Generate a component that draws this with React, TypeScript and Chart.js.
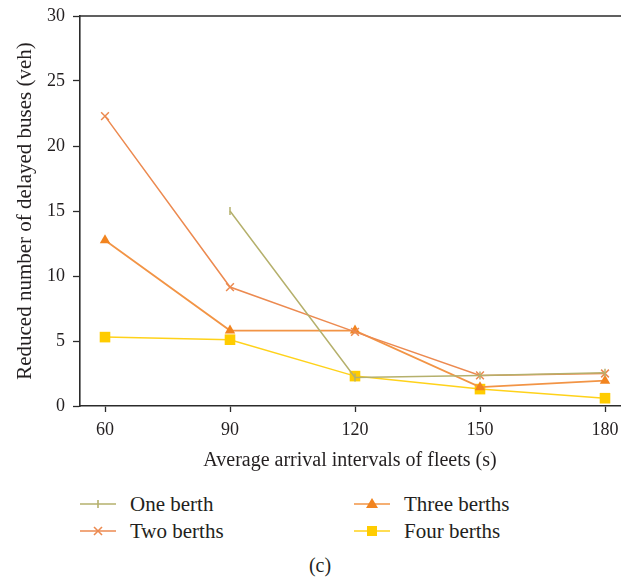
import React, { useEffect, useRef } from "react";
import { Chart, registerables } from "chart.js";

Chart.register(...registerables);

const xValues = [60, 90, 120, 150, 180];
const xTicks = [60, 90, 120, 150, 180];
const seriesNames = ["One berth", "Two berths", "Three berths", "Four berths"];
const oneBerth = [null, 15.0, 2.2, 2.35, 2.55];
const twoBerths = [22.3, 9.15, 5.7, 2.35, 2.5];
const threeBerths = [12.75, 5.8, 5.8, 1.45, 1.95];
const fourBerths = [5.3, 5.1, 2.3, 1.3, 0.6];
const yTitle = "Reduced number of delayed buses (veh)";
const xTitle = "Average arrival intervals of fleets (s)";
const caption = "(c)";

const FONT = "'Liberation Serif', 'Times New Roman', serif";
const TEXT = "#231f20";
const AXIS = "#2b2b2b";

const colors = {
  one: "#b5b06c",
  two: "#ec8a50",
  threeLine: "#f29445",
  threePt: "#f2841f",
  four: "#ffd21a",
  fourPt: "#ffcc00",
};

const toPts = (arr: (number | null)[]) => xValues.map((x, i) => ({ x, y: arr[i] }));

const topLine = {
  id: "topLine",
  afterDraw(chart: any) {
    const { ctx, chartArea } = chart;
    ctx.save();
    ctx.strokeStyle = AXIS;
    ctx.lineWidth = 1.6;
    ctx.beginPath();
    ctx.moveTo(chartArea.left, chartArea.top);
    ctx.lineTo(chart.width, chartArea.top);
    ctx.stroke();
    ctx.restore();
  },
};

function LegendItem({ x, y, label, color, marker }: any) {
  return (
    <div style={{ position: "absolute", left: x, top: y - 14, height: 28, display: "flex", alignItems: "center" }}>
      <svg width={38} height={20} style={{ marginRight: 13 }}>
        <line x1={1} y1={10} x2={37} y2={10} stroke={color} strokeWidth={1.6} />
        {marker === "line" && <line x1={19} y1={6} x2={19} y2={14} stroke={color} strokeWidth={1.6} />}
        {marker === "cross" && (
          <g stroke={color} strokeWidth={1.6}>
            <line x1={15} y1={6} x2={23} y2={14} />
            <line x1={23} y1={6} x2={15} y2={14} />
          </g>
        )}
        {marker === "tri" && <polygon points="19,4 25,14 13,14" fill={colors.threePt} />}
        {marker === "rect" && <rect x={14} y={5} width={10} height={10} fill={colors.fourPt} />}
      </svg>
      <span style={{ fontFamily: FONT, fontSize: 21, color: TEXT, whiteSpace: "nowrap" }}>{label}</span>
    </div>
  );
}

export default function App() {
  const ref = useRef<HTMLCanvasElement>(null);
  useEffect(() => {
    if (!ref.current) return;
    const chart = new Chart(ref.current, {
      type: "line",
      data: {
        datasets: [
          {
            label: seriesNames[0],
            data: toPts(oneBerth),
            borderColor: colors.one,
            backgroundColor: colors.one,
            borderWidth: 1.5,
            pointStyle: "line",
            rotation: 90,
            pointRadius: 4,
            pointBorderWidth: 1.5,
          },
          {
            label: seriesNames[1],
            data: toPts(twoBerths),
            borderColor: colors.two,
            backgroundColor: colors.two,
            borderWidth: 1.5,
            pointStyle: "crossRot",
            pointRadius: 5.5,
            pointBorderWidth: 1.5,
          },
          {
            label: seriesNames[2],
            data: toPts(threeBerths),
            borderColor: colors.threeLine,
            backgroundColor: colors.threePt,
            borderWidth: 1.8,
            pointStyle: "triangle",
            pointRadius: 6,
            pointBorderWidth: 0,
            pointBorderColor: colors.threePt,
          },
          {
            label: seriesNames[3],
            data: toPts(fourBerths),
            borderColor: colors.four,
            backgroundColor: colors.fourPt,
            borderWidth: 1.5,
            pointStyle: "rect",
            pointRadius: 7.5,
            pointBorderWidth: 0,
            pointBorderColor: colors.fourPt,
          },
        ],
      },
      options: {
        animation: false,
        responsive: false,
        maintainAspectRatio: false,
        layout: { autoPadding: false, padding: { top: 16, left: 0, right: 1, bottom: 0 } },
        plugins: { legend: { display: false }, tooltip: { enabled: false } },
        scales: {
          x: {
            type: "linear",
            min: 54,
            max: 183.6,
            afterBuildTicks: (s: any) => {
              s.ticks = xTicks.map((v) => ({ value: v }));
            },
            afterFit: (s: any) => {
              s.height = 74;
              s.paddingLeft = 0;
              s.paddingRight = 0;
            },
            grid: { drawOnChartArea: false, drawTicks: true, tickLength: 6, color: AXIS, tickWidth: 1.3 },
            border: { display: true, color: AXIS, width: 1.6 },
            ticks: { padding: 7, color: TEXT, font: { family: FONT, size: 18 }, maxRotation: 0 },
            title: { display: true, text: xTitle, color: TEXT, font: { family: FONT, size: 20 }, padding: { top: 0, bottom: 7 } },
          },
          y: {
            min: 0,
            max: 30,
            afterFit: (s: any) => {
              s.width = 80;
              s.paddingTop = 0;
              s.paddingBottom = 0;
            },
            ticks: { stepSize: 5, padding: 8, color: TEXT, font: { family: FONT, size: 18 } },
            grid: { drawOnChartArea: false, drawTicks: true, tickLength: 7, color: AXIS, tickWidth: 1.3 },
            border: { display: true, color: AXIS, width: 1.6 },
            title: { display: true, text: yTitle, color: TEXT, font: { family: FONT, size: 21 }, padding: { top: 13, bottom: 0 } },
          },
        },
      },
      plugins: [topLine],
    });
    return () => chart.destroy();
  }, []);

  return (
    <div style={{ position: "absolute", left: 0, top: 0, width: 621, height: 580, background: "#fff" }}>
      <canvas ref={ref} width={621} height={480} style={{ position: "absolute", left: 0, top: 0 }} />
      <LegendItem x={79} y={504} label={seriesNames[0]} color={colors.one} marker="line" />
      <LegendItem x={79} y={531} label={seriesNames[1]} color={colors.two} marker="cross" />
      <LegendItem x={353} y={504} label={seriesNames[2]} color={colors.threeLine} marker="tri" />
      <LegendItem x={353} y={531} label={seriesNames[3]} color={colors.four} marker="rect" />
      <div
        style={{
          position: "absolute",
          left: 0,
          width: 640,
          top: 554,
          textAlign: "center",
          fontFamily: FONT,
          fontSize: 20,
          color: TEXT,
        }}
      >
        {caption}
      </div>
    </div>
  );
}
